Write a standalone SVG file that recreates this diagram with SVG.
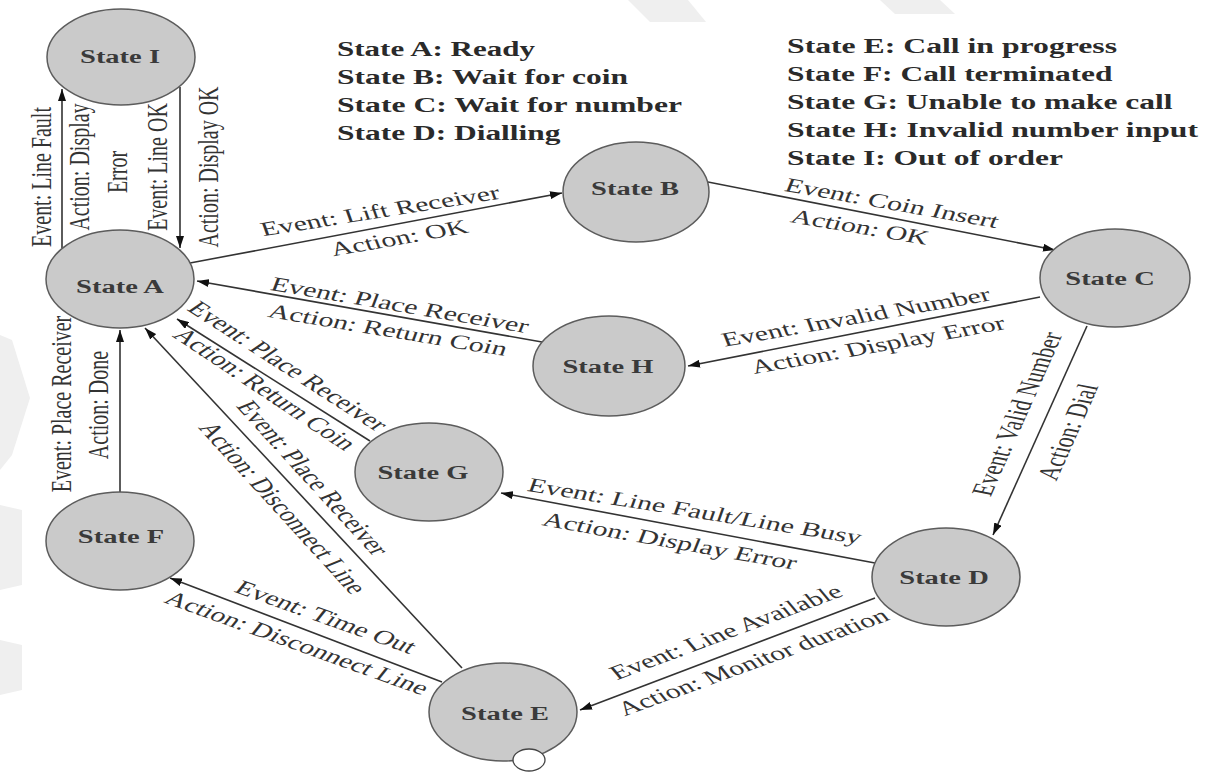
<svg xmlns="http://www.w3.org/2000/svg" width="1207" height="772" viewBox="0 0 1207 772">
<defs>
<style>
.bg{fill:#efefef}
.node ellipse{fill:#cacaca;stroke:#5c5c5c;stroke-width:1.5}
.nt{font-family:"Liberation Serif","Times New Roman",serif;font-weight:bold;font-size:19px;fill:#3a3a3a;text-anchor:middle}
.lg{font-family:"Liberation Serif","Times New Roman",serif;font-weight:bold;font-size:21px;fill:#2a2a2a}
.lb{font-family:"Liberation Serif","Times New Roman",serif;font-size:20px;fill:#333;text-anchor:middle}
.edge{stroke:#333;stroke-width:1.6;fill:none;marker-end:url(#ah)}
</style>
<marker id="ah" viewBox="0 0 12 8" refX="12" refY="4" markerWidth="12" markerHeight="8" markerUnits="userSpaceOnUse" orient="auto">
<path d="M0,0 L12,4 L0,8 z" fill="#111"/>
</marker>
</defs>
<rect width="1207" height="772" fill="#fff"/>
<g id="watermark">
<polygon class="bg" points="628,0 688,0 706,22 650,22"/>
<polygon class="bg" points="880,0 940,0 955,14 895,14"/>
<polygon class="bg" points="0,335 12,340 30,398 12,455 0,470"/>
<polygon class="bg" points="0,505 22,510 22,585 0,590"/>
<polygon class="bg" points="0,640 22,645 22,690 0,695"/>
</g>
<g id="legend">
<text class="lg" transform="translate(337,56) scale(1.5,1)" textLength="132" lengthAdjust="spacingAndGlyphs">State A: Ready</text>
<text class="lg" transform="translate(337,84) scale(1.5,1)" textLength="194" lengthAdjust="spacingAndGlyphs">State B: Wait for coin</text>
<text class="lg" transform="translate(337,112) scale(1.5,1)" textLength="230" lengthAdjust="spacingAndGlyphs">State C: Wait for number</text>
<text class="lg" transform="translate(337,140) scale(1.5,1)" textLength="149" lengthAdjust="spacingAndGlyphs">State D: Dialling</text>
<text class="lg" transform="translate(787,53) scale(1.5,1)" textLength="220" lengthAdjust="spacingAndGlyphs">State E: Call in progress</text>
<text class="lg" transform="translate(787,81) scale(1.5,1)" textLength="217" lengthAdjust="spacingAndGlyphs">State F: Call terminated</text>
<text class="lg" transform="translate(787,109) scale(1.5,1)" textLength="257" lengthAdjust="spacingAndGlyphs">State G: Unable to make call</text>
<text class="lg" transform="translate(787,137) scale(1.5,1)" textLength="274" lengthAdjust="spacingAndGlyphs">State H: Invalid number input</text>
<text class="lg" transform="translate(787,165) scale(1.5,1)" textLength="184" lengthAdjust="spacingAndGlyphs">State I: Out of order</text>
</g>
<g id="connectors">
<line class="edge" x1="62" y1="248" x2="62" y2="89"/>
<line class="edge" x1="180" y1="87" x2="180" y2="248"/>
<line class="edge" x1="190" y1="263" x2="562" y2="193"/>
<line class="edge" x1="708" y1="182" x2="1055" y2="250"/>
<line class="edge" x1="1040" y1="297" x2="688" y2="366"/>
<line class="edge" x1="542" y1="342" x2="197" y2="281"/>
<line class="edge" x1="370" y1="441" x2="177" y2="319"/>
<line class="edge" x1="462" y1="668" x2="145" y2="328"/>
<line class="edge" x1="120" y1="492" x2="120" y2="330"/>
<line class="edge" x1="442" y1="682" x2="170" y2="578"/>
<line class="edge" x1="875" y1="563" x2="501" y2="493"/>
<line class="edge" x1="1087" y1="326" x2="993" y2="535"/>
<line class="edge" x1="875" y1="598" x2="580" y2="710"/>
<g id="edge-labels">
<text class="lb" dy=".33em" transform="translate(41,177) scale(1.5,1) rotate(-90)">Event: Line Fault</text>
<text class="lb" dy=".33em" transform="translate(79,167) scale(1.5,1) rotate(-90)">Action: Display</text>
<text class="lb" dy=".33em" transform="translate(117,172) scale(1.5,1) rotate(-90)">Error</text>
<text class="lb" dy=".33em" transform="translate(157,167) scale(1.5,1) rotate(-90)">Event: Line OK</text>
<text class="lb" dy=".33em" transform="translate(208,167) scale(1.5,1) rotate(-90)">Action: Display OK</text>
<text class="lb" dy=".33em" transform="translate(380,211) scale(1.5,1) rotate(-13.4)">Event: Lift Receiver</text>
<text class="lb" dy=".33em" transform="translate(399,238) scale(1.5,1) rotate(-14.8)">Action: OK</text>
<text class="lb" dy=".33em" transform="translate(892,203) scale(1.5,1) rotate(14.8)">Event: Coin Insert</text>
<text class="lb" dy=".33em" transform="translate(860,227) scale(1.5,1) rotate(14.1)">Action: OK</text>
<text class="lb" dy=".33em" transform="translate(856,317) scale(1.5,1) rotate(-14.7)">Event: Invalid Number</text>
<text class="lb" dy=".33em" transform="translate(878,345) scale(1.5,1) rotate(-15.1)">Action: Display Error</text>
<text class="lb" dy=".33em" transform="translate(400,305) scale(1.5,1) rotate(14.2)">Event: Place Receiver</text>
<text class="lb" dy=".33em" transform="translate(388,330) scale(1.5,1) rotate(13.9)">Action: Return Coin</text>
<text class="lb" dy=".33em" transform="translate(288,366) scale(1.5,1) rotate(44)">Event: Place Receiver</text>
<text class="lb" dy=".33em" transform="translate(265,389) scale(1.5,1) rotate(45)">Action: Return Coin</text>
<text class="lb" dy=".33em" transform="translate(313,478) scale(1.5,1) rotate(58.6)">Event: Place Receiver</text>
<text class="lb" dy=".33em" transform="translate(283,508) scale(1.5,1) rotate(58.6)">Action: Disconnect Line</text>
<text class="lb" dy=".33em" transform="translate(61,404) scale(1.5,1) rotate(-90)">Event: Place Receiver</text>
<text class="lb" dy=".33em" transform="translate(98,405) scale(1.5,1) rotate(-90)">Action: Done</text>
<text class="lb" dy=".33em" transform="translate(326,617) scale(1.5,1) rotate(28)">Event: Time Out</text>
<text class="lb" dy=".33em" transform="translate(297,643) scale(1.5,1) rotate(28.4)">Action: Disconnect Line</text>
<text class="lb" dy=".33em" transform="translate(695,511) scale(1.5,1) rotate(13.5)">Event: Line Fault/Line Busy</text>
<text class="lb" dy=".33em" transform="translate(670,541) scale(1.5,1) rotate(14.8)">Action: Display Error</text>
<text class="lb" dy=".33em" transform="translate(1017,414) scale(1.5,1) rotate(-73.5)">Event: Valid Number</text>
<text class="lb" dy=".33em" transform="translate(1068,432) scale(1.5,1) rotate(-73.5)">Action: Dial</text>
<text class="lb" dy=".33em" transform="translate(726,632) scale(1.5,1) rotate(-29.2)">Event: Line Available</text>
<text class="lb" dy=".33em" transform="translate(753,662) scale(1.5,1) rotate(-28.6)">Action: Monitor duration</text>
</g>
</g>
<g id="state-I" class="node"><ellipse cx="121" cy="57" rx="74" ry="48"/><text class="nt" dy=".33em" transform="translate(120,57) scale(1.5,1)">State I</text></g>
<g id="state-A" class="node"><ellipse cx="120" cy="279" rx="74" ry="49"/><text class="nt" dy=".33em" transform="translate(120,287) scale(1.5,1)">State A</text></g>
<g id="state-B" class="node"><ellipse cx="636" cy="192" rx="73" ry="50"/><text class="nt" dy=".33em" transform="translate(635,189) scale(1.5,1)">State B</text></g>
<g id="state-C" class="node"><ellipse cx="1115" cy="278" rx="75" ry="49"/><text class="nt" dy=".33em" transform="translate(1110,279) scale(1.5,1)">State C</text></g>
<g id="state-H" class="node"><ellipse cx="609" cy="366" rx="76" ry="50"/><text class="nt" dy=".33em" transform="translate(608,367) scale(1.5,1)">State H</text></g>
<g id="state-G" class="node"><ellipse cx="429" cy="472" rx="74" ry="49"/><text class="nt" dy=".33em" transform="translate(423,473) scale(1.5,1)">State G</text></g>
<g id="state-F" class="node"><ellipse cx="120" cy="541" rx="74" ry="49"/><text class="nt" dy=".33em" transform="translate(121,537) scale(1.5,1)">State F</text></g>
<g id="state-D" class="node"><ellipse cx="946" cy="577" rx="74" ry="49"/><text class="nt" dy=".33em" transform="translate(944,578) scale(1.5,1)">State D</text></g>
<g id="state-E" class="node"><ellipse cx="503" cy="712" rx="74" ry="49"/><text class="nt" dy=".33em" transform="translate(505,714) scale(1.5,1)">State E</text></g>
<g id="end-marker"><ellipse cx="529" cy="760" rx="16" ry="11" fill="#fff" stroke="#444" stroke-width="1.3"/></g>
</svg>
